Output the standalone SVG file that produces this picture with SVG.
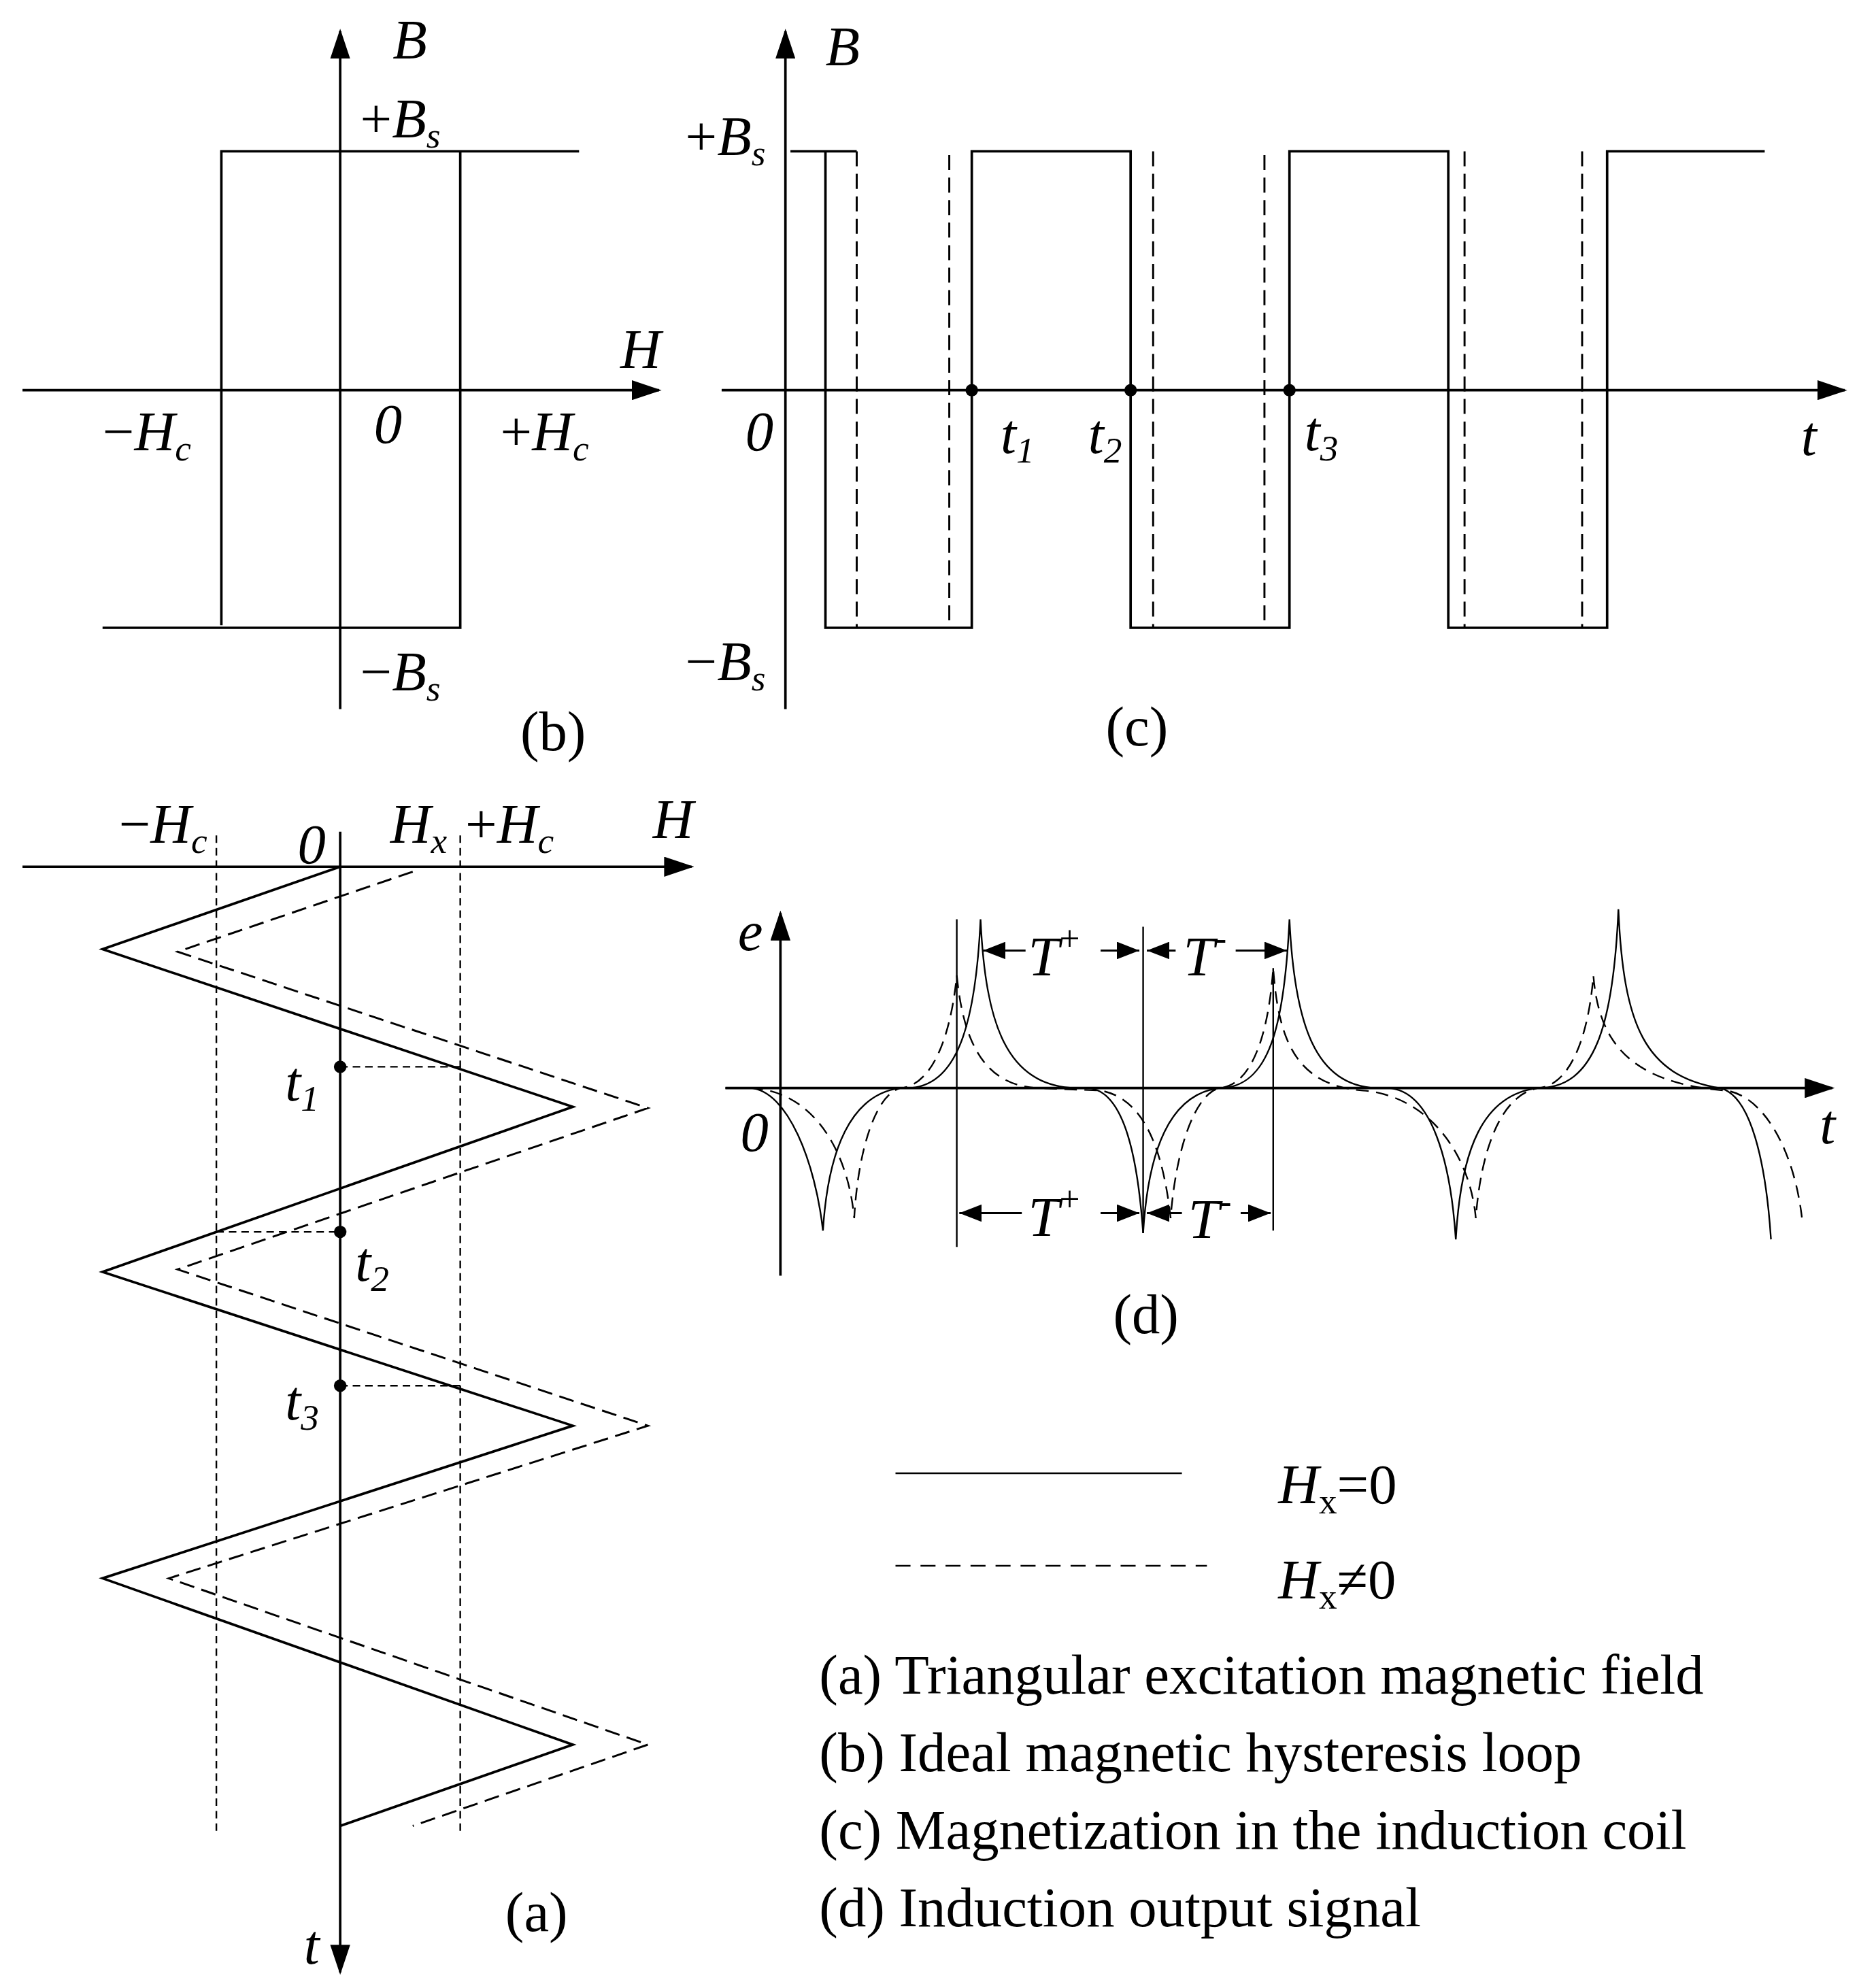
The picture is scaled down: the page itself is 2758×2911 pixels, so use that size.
<svg xmlns="http://www.w3.org/2000/svg" width="2758" height="2911" viewBox="0 0 2758 2911">
<style>
.l{fill:none;stroke:#000;stroke-width:2}
.t{fill:none;stroke:#000;stroke-width:1.3}
.d{fill:none;stroke:#000;stroke-width:1.6;stroke-dasharray:12 6}
.ax{fill:none;stroke:#000;stroke-width:2;marker-end:url(#ar)}
.ra{fill:none;stroke:#000;stroke-width:1.6;marker-end:url(#ea)}
text{font-family:"Liberation Serif",serif;font-size:45px;fill:#000}
.i{font-style:italic}
.sub{font-size:29px}
</style>
<defs>
<marker id="ar" markerUnits="userSpaceOnUse" markerWidth="24" markerHeight="16" refX="22" refY="8" orient="auto"><path d="M0,0 L24,8 L0,16 Z"/></marker>
<marker id="ea" markerUnits="userSpaceOnUse" markerWidth="18" markerHeight="14" refX="18" refY="7" orient="auto"><path d="M0,0 L18,7 L0,14 Z"/></marker>
</defs>
<rect width="2758" height="2911" fill="#fff"/>
<g transform="scale(1.8387)">
<g id="panel-b">
<path class="ax" d="M272,567 V25"/>
<path class="ax" d="M18,312 H527"/>
<path class="l" d="M177,500 V121 H463 M82,502 H368 V121"/>
<text class="i" x="314" y="47">B</text>
<text x="288" y="110">+<tspan class="i">B</tspan><tspan class="i sub" dy="8">s</tspan></text>
<text class="i" x="496" y="294">H</text>
<text x="82" y="360">−<tspan class="i">H</tspan><tspan class="i sub" dy="8">c</tspan></text>
<text class="i" x="299" y="354">0</text>
<text x="400" y="360">+<tspan class="i">H</tspan><tspan class="i sub" dy="8">c</tspan></text>
<text x="288" y="552">−<tspan class="i">B</tspan><tspan class="i sub" dy="8">s</tspan></text>
<text x="416" y="600">(b)</text>
</g>
<g id="panel-c">
<path class="ax" d="M628,567 V25"/>
<path class="ax" d="M577,312 H1475"/>
<path class="l" d="M632,121 H685 M660,121 V502 H777 V121 H904 V502 H1031 V121 H1158 V502 H1285 V121 H1411"/>
<path class="d" d="M685,121 V502 M759,124 V502 M922,121 V502 M1011,124 V502 M1171,121 V502 M1265,121 V502"/>
<circle cx="777" cy="312" r="5"/><circle cx="904" cy="312" r="5"/><circle cx="1031" cy="312" r="5"/>
<text class="i" x="660" y="52">B</text>
<text x="548" y="124">+<tspan class="i">B</tspan><tspan class="i sub" dy="8">s</tspan></text>
<text class="i" x="596" y="360">0</text>
<text class="i" x="800" y="362">t<tspan class="sub" dy="8">1</tspan></text>
<text class="i" x="870" y="362">t<tspan class="sub" dy="8">2</tspan></text>
<text class="i" x="1043" y="360">t<tspan class="sub" dy="8">3</tspan></text>
<text class="i" x="1440" y="364">t</text>
<text x="548" y="544">−<tspan class="i">B</tspan><tspan class="i sub" dy="8">s</tspan></text>
<text x="884" y="596">(c)</text>
</g>
<g id="panel-a">
<path class="ax" d="M18,693 H553"/>
<path class="ax" d="M272,665 V1577"/>
<path class="t" d="M173,668 V1465 M368,668 V1465" stroke-dasharray="6 4"/>
<path class="l" d="M272,693 L82,759 L458,885 L82,1017 L458,1140 L82,1262 L458,1395 L272,1460"/>
<path class="d" d="M330,697 L142,761 L518,886 L142,1015 L518,1140 L135,1262 L518,1395 L330,1460"/>
<path class="t" stroke-dasharray="6 4" d="M272,853 H368 M173,985 H272 M272,1108 H368"/>
<circle cx="272" cy="853" r="5"/><circle cx="272" cy="985" r="5"/><circle cx="272" cy="1108" r="5"/>
<text x="95" y="674">−<tspan class="i">H</tspan><tspan class="i sub" dy="8">c</tspan></text>
<text class="i" x="238" y="690">0</text>
<text class="i" x="312" y="674">H<tspan class="sub" dy="8">x</tspan></text>
<text x="372" y="674">+<tspan class="i">H</tspan><tspan class="i sub" dy="8">c</tspan></text>
<text class="i" x="522" y="670">H</text>
<text class="i" x="228" y="880">t<tspan class="sub" dy="8">1</tspan></text>
<text class="i" x="284" y="1024">t<tspan class="sub" dy="8">2</tspan></text>
<text class="i" x="228" y="1135">t<tspan class="sub" dy="8">3</tspan></text>
<text class="i" x="243" y="1570">t</text>
<text x="404" y="1544">(a)</text>
</g>
<g id="panel-d">
<path class="ax" d="M624,1020 V730"/>
<path class="ax" d="M580,870 H1465"/>
<path class="t" d="M765,735 V997 M914,741 V986 M1018,774 V984"/>
<path class="t" d="M580,870 L600,870 C630,872 652,930 658,984 C662,920 680,875 720,870 L725,870 C765,870 780,820 784,735 C788,820 805,868 860,870 L870,870 C900,872 910,930 914,986 C918,920 935,875 975,870 C1015,870 1027,820 1031,735 C1035,820 1052,868 1100,870 L1110,870 C1145,872 1160,930 1164,991 C1168,920 1185,875 1230,870 C1275,870 1290,820 1294,727 C1298,820 1315,860 1375,870 C1400,875 1412,930 1416,991"/>
<path class="t" stroke-dasharray="10 6" d="M600,870 C650,872 678,920 683,974 C686,920 700,875 720,870 C745,868 760,830 765,780 C770,830 785,868 830,870 L880,872 C915,878 930,920 936,974 C940,920 955,875 975,870 C1000,868 1014,830 1018,774 C1022,830 1035,868 1090,872 C1140,876 1175,920 1180,974 C1184,920 1200,875 1230,870 C1255,868 1270,830 1274,780 C1278,830 1300,866 1380,872 C1410,876 1435,920 1441,976"/>
<g id="dims">
<path class="ra" d="M820,760 H786"/><path class="ra" d="M880,760 H911"/>
<path class="ra" d="M940,760 H917"/><path class="ra" d="M988,760 H1029"/>
<path class="ra" d="M817,970 H767"/><path class="ra" d="M880,970 H911"/>
<path class="ra" d="M945,970 H917"/><path class="ra" d="M992,970 H1016"/>
</g>
<text class="i" x="822" y="780">T<tspan class="sub" dy="-20" font-style="normal">+</tspan></text>
<text class="i" x="946" y="780">T<tspan class="sub" dy="-20" font-style="normal">-</tspan></text>
<text class="i" x="822" y="988">T<tspan class="sub" dy="-20" font-style="normal">+</tspan></text>
<text class="i" x="950" y="990">T<tspan class="sub" dy="-20" font-style="normal">-</tspan></text>
<text class="i" x="590" y="760">e</text>
<text class="i" x="592" y="920">0</text>
<text class="i" x="1455" y="914">t</text>
<text x="890" y="1066">(d)</text>
</g>
<g id="legend">
<path class="t" d="M716,1178 H945"/>
<path class="t" stroke-dasharray="12 8" d="M716,1252 H965"/>
<text x="1022" y="1202"><tspan class="i">H</tspan><tspan class="sub" dy="8">x</tspan><tspan dy="-8">=0</tspan></text>
<text x="1022" y="1278"><tspan class="i">H</tspan><tspan class="sub" dy="8">x</tspan><tspan dy="-8">≠0</tspan></text>
<text x="655" y="1354">(a) Triangular excitation magnetic field</text>
<text x="655" y="1416">(b) Ideal magnetic hysteresis loop</text>
<text x="655" y="1478">(c) Magnetization in the induction coil</text>
<text x="655" y="1540">(d) Induction output signal</text>
</g>
</g>
</svg>
